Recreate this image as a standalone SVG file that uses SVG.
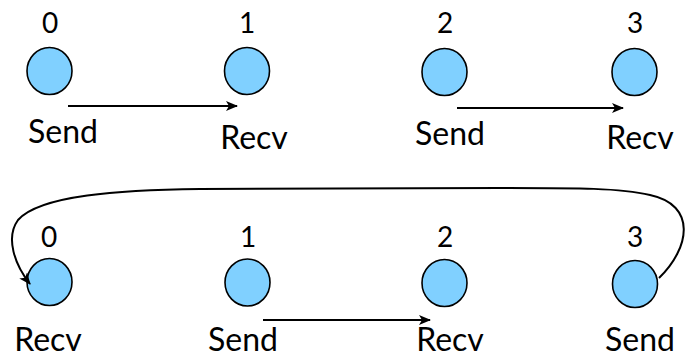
<svg xmlns="http://www.w3.org/2000/svg" width="688" height="359" viewBox="0 0 688 359">
  <style>
    .proc { fill: #80D0FF; stroke: #000; stroke-width: 1.6; }
    .rank { font-family: "Lato", "Liberation Sans", sans-serif; font-size: 28px; text-anchor: middle; fill: #000; }
    .op { font-family: "Lato", "Liberation Sans", sans-serif; font-size: 32px; text-anchor: middle; fill: #000; }
    .msg { fill: none; stroke: #000; stroke-width: 2; marker-end: url(#arrow); }
  </style>
  <defs>
    <marker id="arrow" viewBox="0 0 12 10" refX="11" refY="5" markerWidth="6" markerHeight="5" orient="auto" markerUnits="strokeWidth">
      <path d="M0,0 L12,5 L0,10 L3,5 Z" fill="#000"/>
    </marker>
  </defs>

  <!-- first step: 0 sends to 1, 2 sends to 3 -->
  <g id="top-0">
    <text class="rank" x="50" y="33">0</text>
    <ellipse class="proc" cx="49.5" cy="71" rx="22.5" ry="23.5"/>
    <text class="op" x="63" y="143">Send</text>
  </g>
  <g id="top-1">
    <text class="rank" x="247" y="33">1</text>
    <ellipse class="proc" cx="247" cy="71" rx="22.5" ry="23.5"/>
    <text class="op" x="254" y="149">Recv</text>
  </g>
  <g id="top-2">
    <text class="rank" x="445" y="33">2</text>
    <ellipse class="proc" cx="444.5" cy="72" rx="22.5" ry="23.5"/>
    <text class="op" x="450" y="145">Send</text>
  </g>
  <g id="top-3">
    <text class="rank" x="635" y="33">3</text>
    <ellipse class="proc" cx="634.5" cy="72" rx="22.5" ry="23.5"/>
    <text class="op" x="640" y="149">Recv</text>
  </g>

  <!-- second step: 1 sends to 2, 3 wraps around to 0 -->
  <g id="bottom-0">
    <text class="rank" x="49" y="247">0</text>
    <ellipse class="proc" cx="49.5" cy="282" rx="22.5" ry="23.5"/>
    <text class="op" x="48" y="351">Recv</text>
  </g>
  <g id="bottom-1">
    <text class="rank" x="248" y="247">1</text>
    <ellipse class="proc" cx="247.5" cy="282.5" rx="22.5" ry="23.5"/>
    <text class="op" x="243" y="351">Send</text>
  </g>
  <g id="bottom-2">
    <text class="rank" x="445" y="247">2</text>
    <ellipse class="proc" cx="444.5" cy="283" rx="22.5" ry="23.5"/>
    <text class="op" x="450" y="351">Recv</text>
  </g>
  <g id="bottom-3">
    <text class="rank" x="635" y="247">3</text>
    <ellipse class="proc" cx="635" cy="284" rx="22.5" ry="23.5"/>
    <text class="op" x="640" y="351">Send</text>
  </g>

  <g id="connectors">
    <path class="msg" d="M68,106 L237,106"/>
    <path class="msg" d="M457,108 L623,108"/>
    <path class="msg" d="M263,320 L430,320"/>
    <path class="msg" d="M659,278 C690,248 697,205 650,195 C620,188 580,188 500,188 L200,189 C120,190 40,195 18,220 C5,238 15,265 30,284"/>
  </g>
</svg>
